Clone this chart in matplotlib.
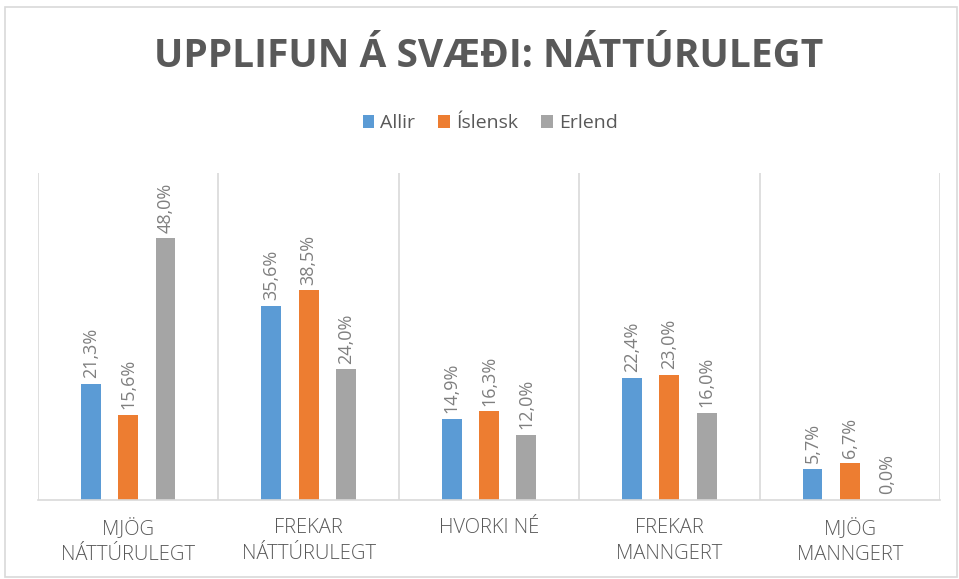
import matplotlib.pyplot as plt
import numpy as np
from matplotlib.patches import Rectangle

categories = ["MJÖG\nNÁTTÚRULEGT", "FREKAR\nNÁTTÚRULEGT", "HVORKI NÉ",
              "FREKAR\nMANNGERT", "MJÖG\nMANNGERT"]
series = ["Allir", "Íslensk", "Erlend"]
allir = [21.3, 35.6, 14.9, 22.4, 5.7]
islensk = [15.6, 38.5, 16.3, 23.0, 6.7]
erlend = [48.0, 24.0, 12.0, 16.0, 0.0]
colors = ["#5B9BD5", "#ED7D31", "#A5A5A5"]

plt.rcParams['font.family'] = ['Open Sans', 'DejaVu Sans']
txt = "#595959"

fig = plt.figure(figsize=(9.59, 5.79), dpi=100)
ax = fig.add_axes([38 / 959, 79 / 579, 902 / 959, 327 / 579])
fig.patches.append(Rectangle((5 / 959, 2 / 579), 952 / 959, 570 / 579,
                             transform=fig.transFigure, fill=False,
                             edgecolor="#d9d9d9", lw=1.2))

x = np.arange(len(categories))
w = 0.11
step = 0.207
for i, (vals, name) in enumerate(zip([allir, islensk, erlend], series)):
    bars = ax.bar(x + (i - 1) * step, vals, w, color=colors[i], label=name)
    for b, v in zip(bars, vals):
        ax.annotate(f"{v:.1f}%".replace(".", ","),
                    (b.get_x() + b.get_width() / 2, v),
                    xytext=(0, 4), textcoords="offset points",
                    rotation=90, ha="center", va="bottom",
                    fontsize=13, color="#7f7f7f")

ax.set_xlim(-0.5, len(categories) - 0.5)
ax.set_ylim(0, 60)
for b in np.arange(-0.5, len(categories), 1.0):
    ax.axvline(b, color="#d9d9d9", lw=1.2, zorder=0)
for s in ["top", "left", "right"]:
    ax.spines[s].set_visible(False)
ax.spines["bottom"].set_color("#d9d9d9")
ax.spines["bottom"].set_linewidth(1.2)
ax.set_yticks([])
ax.set_xticks(x)
ax.set_xticklabels(categories, fontsize=14.5, color=txt, linespacing=1.4,
                   fontweight="light")
ax.tick_params(axis="x", length=0, pad=13)

fig.text(0.509, 0.903, "UPPLIFUN Á SVÆÐI: NÁTTÚRULEGT", ha="center",
         va="center", fontsize=28, fontweight="bold", color=txt)
fig.legend(loc="center", bbox_to_anchor=(0.511, 0.787), ncol=3, frameon=False,
           fontsize=14, labelcolor=txt, handlelength=0.6, handleheight=0.7,
           handletextpad=0.3, columnspacing=1.2)

fig.savefig("out.png", dpi=100)
